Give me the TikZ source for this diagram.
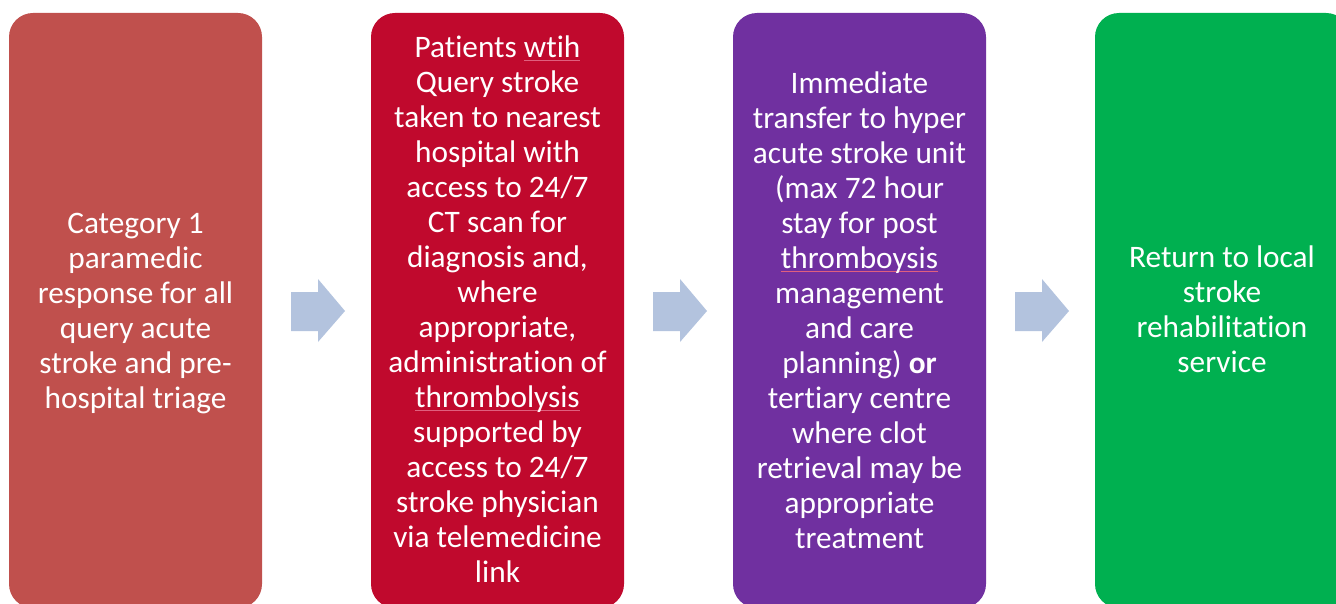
\documentclass[tikz,border=0pt]{standalone}
\usepackage{fontspec}
\setmainfont[Ligatures=NoCommon]{Carlito}
\begin{document}
\definecolor{boxA}{HTML}{C0504D}
\definecolor{boxB}{HTML}{C0092D}
\definecolor{boxC}{HTML}{7030A0}
\definecolor{boxD}{HTML}{00B050}
\definecolor{arrowfill}{HTML}{B3C3DE}
\definecolor{spellmark}{HTML}{E0607E}
% thin red proofing line under a word
\newcommand\proofmark[1]{\setbox0\hbox{#1}\rlap{\color{spellmark}\vrule width\wd0 height -2.5pt depth 3.5pt}\box0}
% keep "t" and "i" as separate glyphs
\newcommand\tiSplit{t\kern0pt i}
\begin{tikzpicture}[x=1pt,y=-1pt,
  stagebox/.style={rounded corners=24pt},
  stagetext/.style={text=white,align=center,font=\fontsize{31.3}{35}\selectfont,inner sep=0pt},
  flowarrow/.style={fill=arrowfill,draw=none}]
\useasboundingbox (0,0) rectangle (1336,604);
\begin{scope}
\clip (0,0) rectangle (1336,604);
% the four stages
\fill[stagebox,boxA] (9,13) rectangle (262,608);
\fill[stagebox,boxB] (371,13) rectangle (624,608);
\fill[stagebox,boxC] (733,13) rectangle (986,608);
\fill[stagebox,boxD] (1095,13) rectangle (1350,608);
\end{scope}
\coordinate (s1) at (135.5,314);
\coordinate (s2) at (497.5,309.5);
\coordinate (s3) at (859.5,310);
\coordinate (s4) at (1222,309.5);
\node[stagetext] (t1) at (s1) {Category 1\\paramedic\\response for all\\query acute\\stroke and pre-\\hospital triage};
\node[stagetext] (t2) at (s2) {Pa\tiSplit ents \proofmark{wtih}\\Query stroke\\taken to nearest\\hospital with\\access to 24/7\\CT scan for\\diagnosis and,\\where\\appropriate,\\administra\tiSplit on of\\\proofmark{thrombolysis}\\supported by\\access to 24/7\\stroke physician\\via telemedicine\\link};
\node[stagetext] (t3) at (s3) {Immediate\\transfer to hyper\\acute stroke unit\\(max 72 hour\\stay for post\\\proofmark{thromboysis}\\management\\and care\\planning) \textbf{or}\\ter\tiSplit ary centre\\where clot\\retrieval may be\\appropriate\\treatment};
\node[stagetext] (t4) at (s4) {Return to local\\stroke\\rehabilita\tiSplit on\\service};
% block arrows between the stages
\foreach \x in {291,653,1015}{
  \fill[flowarrow] (\x,292) -- ++(27,0) -- ++(0,-13) -- ++(27,32) -- ++(-27,31) -- ++(0,-11) -- ++(-27,0) -- cycle;
}
\end{tikzpicture}
\end{document}
